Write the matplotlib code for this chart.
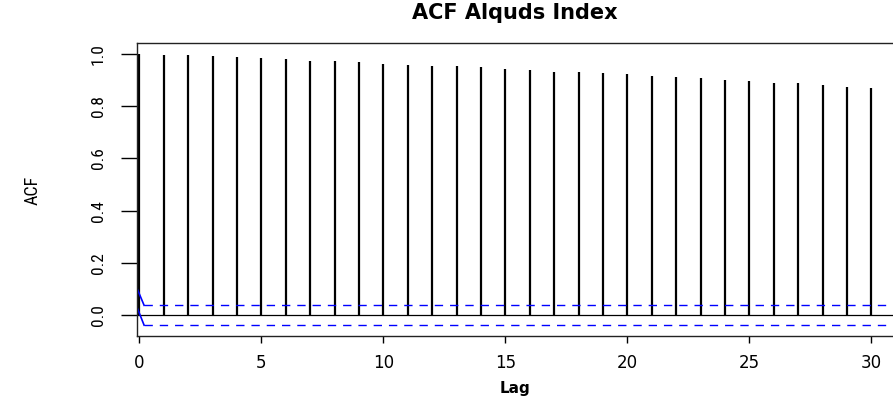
import matplotlib
matplotlib.use("Agg")
import matplotlib.pyplot as plt
from matplotlib import font_manager
import numpy as np

# ACF values (lag 0..30)
lags = list(range(0, 31))
acf_vals = [1.000, 0.997, 0.995, 0.992, 0.987, 0.983, 0.981, 0.974, 0.972, 0.968,
            0.962, 0.959, 0.955, 0.953, 0.949, 0.941, 0.939, 0.932, 0.930, 0.925,
            0.922, 0.916, 0.910, 0.906, 0.901, 0.895, 0.889, 0.887, 0.880, 0.875,
            0.871]
ci = 0.038   # confidence bound
xticks = [0, 5, 10, 15, 20, 25, 30]
yticks = [0.0, 0.2, 0.4, 0.6, 0.8, 1.0]

# condensed font for the y side if there is one
names = set(f.name for f in font_manager.fontManager.ttflist)
narrow = [n for n in ["Liberation Sans Narrow", "Roboto Condensed", "Open Sans Condensed",
                      "DejaVu Sans Condensed", "Liberation Sans"] if n in names]
narrow.append("DejaVu Sans")

fig = plt.figure(figsize=(8.93, 3.98), dpi=100)
xmin, xmax = -0.1, 31.3
ax = fig.add_axes([137/893, 62/398, (xmax - xmin)*24.4/893, (336-43)/398])

# vertical bars
ax.vlines(lags, 0, acf_vals, colors="black", linewidth=1.6)
ax.axhline(0, color="black", linewidth=0.9)

# confidence lines
ax.plot([0.19, 32], [ci, ci], color="blue", linewidth=1.0, dashes=(6, 5))
ax.plot([0.19, 32], [-ci, -ci], color="blue", linewidth=1.0, dashes=(6, 5))
# solid blue stubs at the left edge
ax.plot([-0.1, 0.19], [0.103, ci], color="blue", linewidth=1.2)
ax.plot([-0.1, 0.19], [0.0305, -ci], color="blue", linewidth=1.2)

ax.set_xlim(xmin, xmax)
ax.set_ylim(-0.0795, 1.0415)

for s in ["left", "top", "bottom", "right"]:
    ax.spines[s].set_linewidth(1.0)
    ax.spines[s].set_color("#222222")

ax.set_xticks(xticks)
ax.set_xticklabels([str(t) for t in xticks], fontsize=12, family="DejaVu Sans")
ax.set_yticks(yticks)
ax.set_yticklabels(["%.1f" % t for t in yticks], rotation=90, va="center",
                   fontsize=12.5, family=narrow)
ax.tick_params(axis="x", length=5, width=1.0, pad=8)
ax.tick_params(axis="y", length=11.5, width=1.0, pad=11)

fig.text(515/893, 1 - 13/398, "ACF Alquds Index", ha="center", va="center",
         fontsize=15, fontweight="bold", family="DejaVu Sans")
fig.text(515/893, 1 - 389/398, "Lag", ha="center", va="center",
         fontsize=11, fontweight="bold", family="DejaVu Sans")
fig.text(33/893, 1 - 190/398, "ACF", ha="center", va="center", rotation=90,
         fontsize=13, family=narrow)

fig.savefig("out.png", dpi=100)
